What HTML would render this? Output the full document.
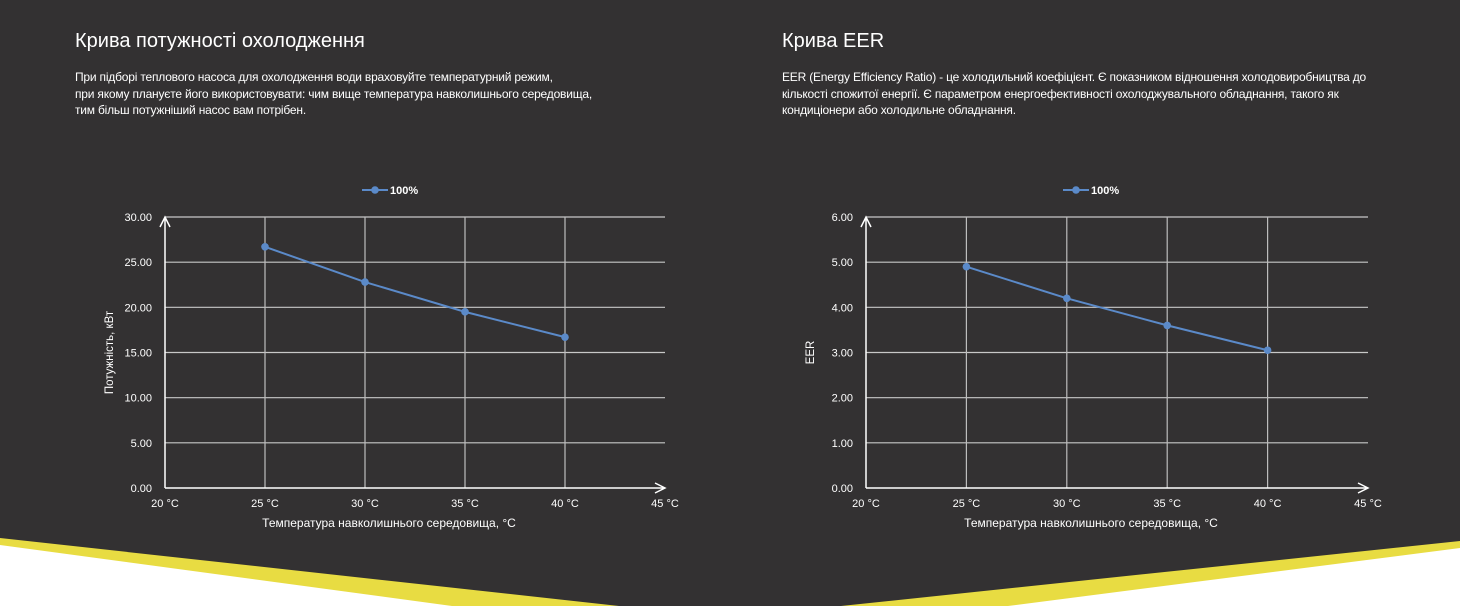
<!DOCTYPE html>
<html><head><meta charset="utf-8">
<style>
html,body{margin:0;padding:0;width:1460px;height:606px;overflow:hidden;background:#333132;font-family:"Liberation Sans",sans-serif;color:#fff}
.t{position:absolute;font-size:20px;top:30px;margin:0;font-weight:normal}
.p{position:absolute;font-size:12px;line-height:16.5px;top:69px;margin:0;letter-spacing:-0.2px}
svg{position:absolute;left:0;top:0}
</style></head><body>
<h2 class="t" style="left:75px">Крива потужності охолодження</h2>
<p class="p" style="left:75px;width:560px">При підборі теплового насоса для охолодження води враховуйте температурний режим,<br>при якому плануєте його використовувати: чим вище температура навколишнього середовища,<br>тим більш потужніший насос вам потрібен.</p>
<h2 class="t" style="left:782px">Крива EER</h2>
<p class="p" style="left:782px;width:620px">EER (Energy Efficiency Ratio) - це холодильний коефіцієнт. Є показником відношення холодовиробництва до<br>кількості спожитої енергії. Є параметром енергоефективності охолоджувального обладнання, такого як<br>кондиціонери або холодильне обладнання.</p>
<svg id="svg" width="1460" height="606">
<polygon points="0,538 619,606 0,606" fill="#e8dc42"/>
<polygon points="0,545 452,606 0,606" fill="#ffffff"/>
<polygon points="1460,541 841,606 1460,606" fill="#e8dc42"/>
<polygon points="1460,548 1008,606 1460,606" fill="#ffffff"/>
</svg>
<script>
const categories=[25,30,35,40];
const xTicks=["20 °C","25 °C","30 °C","35 °C","40 °C","45 °C"];
const capacityValues=[26.7,22.8,19.5,16.7];
const capacityTicks=["0.00","5.00","10.00","15.00","20.00","25.00","30.00"];
const eerValues=[4.9,4.2,3.6,3.05];
const eerTicks=["0.00","1.00","2.00","3.00","4.00","5.00","6.00"];
const NS="http://www.w3.org/2000/svg";
const svg=document.getElementById('svg');
function mk(tag,attrs,txt){const e=document.createElementNS(NS,tag);for(const k in attrs)e.setAttribute(k,attrs[k]);if(txt!==undefined)e.textContent=txt;svg.appendChild(e);return e;}
function chart(x0,x1,vals,ticks,ymax,yTitle,prefix){
  const y0=488,y1=217;
  const xs=v=>x0+(v-20)/25*(x1-x0);
  const ys=v=>y0-v/ymax*(y0-y1);
  ticks.forEach((t,i)=>{const v=ymax*i/(ticks.length-1);const y=ys(v);
    if(i>0){const l=mk('line',{x1:x0,x2:x1,y1:y,y2:y,stroke:'#c8c8c8','stroke-width':1.2});
    }
    const tx=mk('text',{x:x0-13,y:y+4,'font-size':11,fill:'#fff','text-anchor':'end'},t);
    });
  xTicks.forEach((t,i)=>{const v=20+5*i;const x=xs(v);
    if(i>0&&i<5){const l=mk('line',{x1:x,x2:x,y1:y1,y2:y0,stroke:'#bdbdbd','stroke-width':1.2});
    }
    const tx=mk('text',{x:x,y:507,'font-size':11,fill:'#fff','text-anchor':'middle'},t);
    });
  const ax=mk('path',{d:`M${x0},${y0}V${y1} M${x0-5},${y1+10}L${x0},${y1}L${x0+5},${y1+10} M${x0},${y0}H${x1} M${x1-10},${y0-5}L${x1},${y0}L${x1-10},${y0+5}`,stroke:'#fff','stroke-width':1.5,fill:'none'});
  
  const pts=categories.map((c,i)=>xs(c)+','+ys(vals[i])).join(' ');
  const pl=mk('polyline',{points:pts,fill:'none',stroke:'#5b8ac9','stroke-width':2});
  
  categories.forEach((c,i)=>{const m=mk('circle',{cx:xs(c),cy:ys(vals[i]),r:3.8,fill:'#5b8ac9'});
    });
  const lx=x0+197;
  const ll=mk('line',{x1:lx,x2:lx+26,y1:190,y2:190,stroke:'#5b8ac9','stroke-width':2});
  
  const lc=mk('circle',{cx:lx+13,cy:190,r:3.8,fill:'#5b8ac9'});
  
  const lt=mk('text',{x:lx+28,y:194,'font-size':11,'font-weight':'bold',fill:'#fff'},'100%');
  
  const xt=mk('text',{x:(x0+x1)/2-26,y:527,'font-size':12,fill:'#fff','text-anchor':'middle'},'Температура навколишнього середовища, °C');
  
  const yt=mk('text',{x:0,y:0,'font-size':11.5,fill:'#fff','text-anchor':'middle',transform:`translate(${x0-52},${(y0+y1)/2}) rotate(-90)`},yTitle);
  
}
chart(165,665,capacityValues,capacityTicks,30,'Потужність, кВт','capacity');
chart(866,1368,eerValues,eerTicks,6,'EER','eer');
</script>
</body></html>
